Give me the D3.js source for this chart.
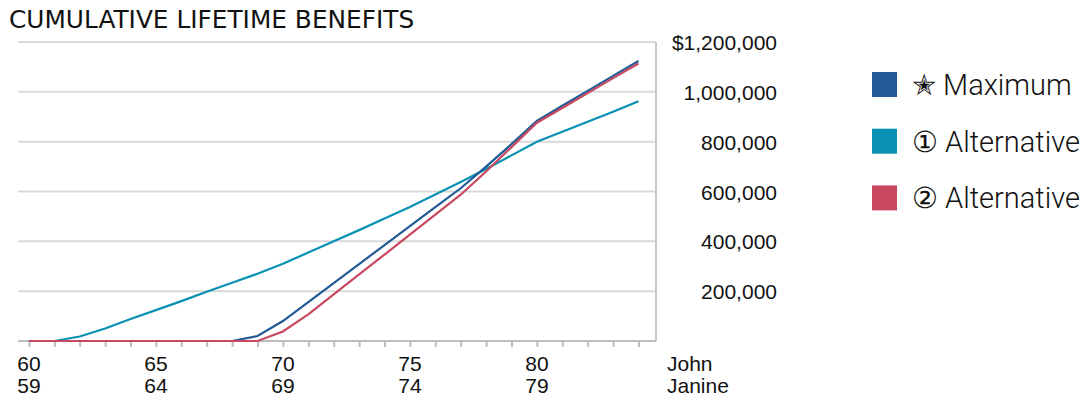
<!DOCTYPE html>
<html>
<head>
<meta charset="utf-8">
<script src="https://cdn.jsdelivr.net/npm/d3@7"></script>
<style>
  body { margin: 0; background: #fff; }
  svg { display: block; }
</style>
</head>
<body>
<svg id="chart" width="1086" height="400"></svg>
<script>
// Ages (John); Janine is one year younger
let johnAges = d3.range(60, 85);
let janineAges = johnAges.map((a) => a - 1);
let labelAges = [60, 65, 70, 75, 80];
let yTicks = [200000, 400000, 600000, 800000, 1000000, 1200000];

// Cumulative benefits per year, ages 60..84
let maximumValues = [0, 0, 0, 0, 0, 0, 0, 0, 0, 20000, 80000, 156000, 232000, 309000, 385000,
    461000, 537000, 613000, 700000, 790000, 883000, 944000, 1004000, 1064000, 1124000];
let alt1Values = [0, 0, 18000, 50000, 88000, 124000, 160000, 198000, 234000, 270000, 310000,
    355000, 400000, 445000, 492000, 538000, 588000, 638000, 690000, 745000, 800000,
    840000, 880000, 920000, 962000];
let alt2Values = [0, 0, 0, 0, 0, 0, 0, 0, 0, 0, 38000, 107000, 187000, 267000, 347000,
    427000, 507000, 587000, 680000, 778000, 876000, 935000, 995000, 1055000, 1114000];

let seriesNames = ['\u272D Maximum', '\u2460 Alternative', '\u2461 Alternative'];
let seriesColors = ['#215a96', '#0891b2', '#c8485f'];

let drawChart = () => {
    let svg = d3.select('#chart');
    let left = 18, right = 656, top = 42, bottom = 341;

    // Scales
    let x = d3.scaleLinear()
        .domain([59.57, 84.69])
        .range([left, right]);
    let y = d3.scaleLinear()
        .domain([0, 1200000])
        .range([bottom, top]);

    // Title
    svg.append('text')
        .attr('x', 9)
        .attr('y', 28)
        .attr('font-family', 'DejaVu Sans, sans-serif')
        .attr('font-size', 24.8)
        .attr('fill', '#111')
        .text('CUMULATIVE LIFETIME BENEFITS');

    // Gridlines
    svg.append('g')
        .selectAll('line')
        .data(yTicks)
        .enter()
        .append('line')
        .attr('x1', left)
        .attr('x2', right)
        .attr('y1', (d) => y(d))
        .attr('y2', (d) => y(d))
        .attr('stroke', '#d9d9d9')
        .attr('stroke-width', 2);

    // Right border
    svg.append('line')
        .attr('x1', right)
        .attr('x2', right)
        .attr('y1', top)
        .attr('y2', bottom)
        .attr('stroke', '#c8c8c8')
        .attr('stroke-width', 2);

    // Y labels on the right
    svg.append('g')
        .selectAll('text')
        .data(yTicks)
        .enter()
        .append('text')
        .attr('x', 777)
        .attr('y', (d) => y(d) + 8)
        .attr('text-anchor', 'end')
        .attr('font-family', 'Liberation Sans, Arial, sans-serif')
        .attr('font-size', 21)
        .attr('fill', '#111')
        .text((d) => (d === 1200000 ? '$' : '') + d3.format(',')(d));

    // Bottom axis
    let xAxis = svg.append('g')
        .attr('transform', `translate(0,${bottom})`)
        .call(d3.axisBottom(x).tickValues(johnAges).tickSize(6).tickFormat(''));
    xAxis.select('.domain').remove();
    xAxis.selectAll('line').attr('stroke', '#bdbdbd').attr('stroke-width', 2);
    svg.append('line')
        .attr('x1', left)
        .attr('x2', right)
        .attr('y1', bottom)
        .attr('y2', bottom)
        .attr('stroke', '#bdbdbd')
        .attr('stroke-width', 2);

    // Age labels: John row and Janine row
    let rows = [{ ages: johnAges, name: 'John', y: 371 }, { ages: janineAges, name: 'Janine', y: 393 }];
    rows.forEach((row) => {
        svg.append('g')
            .selectAll('text')
            .data(labelAges)
            .enter()
            .append('text')
            .attr('x', (d) => x(d))
            .attr('y', row.y)
            .attr('text-anchor', 'middle')
            .attr('font-family', 'Liberation Sans, Arial, sans-serif')
            .attr('font-size', 21)
            .attr('fill', '#111')
            .text((d) => row.ages[johnAges.indexOf(d)]);
        svg.append('text')
            .attr('x', 667)
            .attr('y', row.y)
            .attr('font-family', 'Liberation Sans, Arial, sans-serif')
            .attr('font-size', 21)
            .attr('fill', '#111')
            .text(row.name);
    });

    // Lines
    let line = d3.line()
        .x((d, i) => x(johnAges[i]))
        .y((d) => y(d));
    let allSeries = [alt1Values, maximumValues, alt2Values];
    let allColors = [seriesColors[1], seriesColors[0], seriesColors[2]];
    allSeries.forEach((values, i) => {
        svg.append('path')
            .datum(values)
            .attr('fill', 'none')
            .attr('stroke', allColors[i])
            .attr('stroke-width', 2.2)
            .attr('d', line);
    });

    // Legend
    let legend = svg.append('g')
        .selectAll('g')
        .data(seriesNames)
        .enter()
        .append('g')
        .attr('transform', (d, i) => `translate(872,${72 + i * 56.7})`);
    legend.append('rect')
        .attr('width', 25)
        .attr('height', 25)
        .attr('fill', (d, i) => seriesColors[i]);
    legend.append('text')
        .attr('x', 40)
        .attr('y', 23)
        .attr('font-family', 'Roboto, sans-serif')
        .attr('font-weight', 300)
        .attr('font-size', 29)
        .attr('fill', '#111')
        .text((d) => d);
};

drawChart();
</script>
</body>
</html>
